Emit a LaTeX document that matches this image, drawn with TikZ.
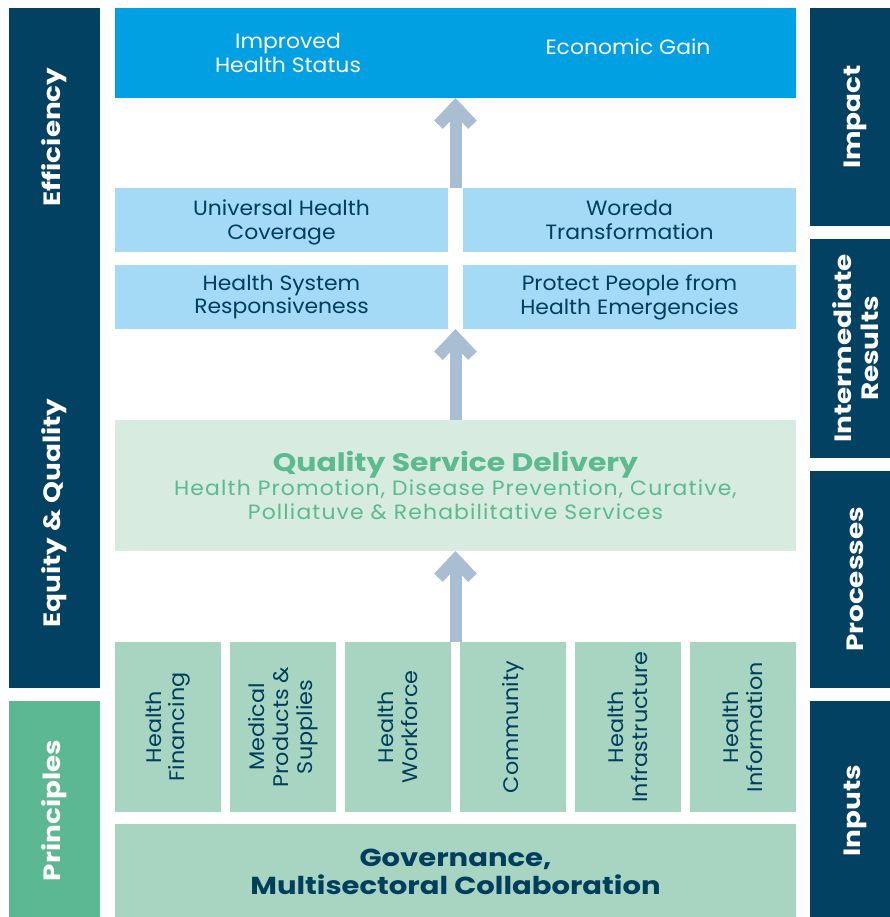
\documentclass[tikz,border=0pt]{standalone}
\usepackage{fontspec}
\setmainfont{Poppins}[FakeStretch=1.06, BoldFeatures={FakeStretch=1.18}]
\usetikzlibrary{arrows.meta}

\definecolor{navy}{RGB}{2,65,97}
\definecolor{navytext}{RGB}{0,62,94}
\definecolor{leafband}{RGB}{92,184,146}
\definecolor{skyblue}{RGB}{0,160,227}
\definecolor{paleblue}{RGB}{164,218,246}
\definecolor{mint}{RGB}{215,235,224}
\definecolor{mintdark}{RGB}{168,213,193}
\definecolor{mintText}{RGB}{91,186,143}
\definecolor{arrowgrey}{RGB}{169,189,211}

\tikzset{
  sz/.style 2 args={minimum width=#1*0.025cm, minimum height=#2*0.025cm},
  block/.style={inner sep=0, outer sep=0},
  bandlabel/.style={rotate=90, text=white, align=center, font=\bfseries\fontsize{16.8}{19}\selectfont},
  boxtext/.style={align=center, font=\fontsize{14.7}{17}\selectfont},
  inputtext/.style={rotate=90, align=center, text=navytext, font=\fontsize{15}{17}\selectfont},
  uparrow/.style={draw=arrowgrey, line width=0.3cm, -{Straight Barb[length=0.45cm, width=0.85cm]}},
}

\begin{document}
\begin{tikzpicture}[x=0.025cm, y=-0.025cm]
		%%%%% START %%%%%
		\useasboundingbox (0,0) rectangle (890,917);
		
		% left bands
		\node[block, fill=navy, sz={91}{680}] (leftband) at (54.5,348) {};
		\node[bandlabel] (eff) at (54.5,137) {Efficiency};
		\node[bandlabel] (equity) at (54.5,513) {Equity \& Quality};
		\node[block, fill=leafband, sz={219}{91}, bandlabel] (princ) at (54.5,810.5) {Principles};
		
		% right bands
		\node[block, fill=navy, sz={218}{91}, bandlabel] (impact) at (855.5,117) {Impact};
		\node[block, fill=navy, sz={219}{91}, bandlabel] (ir) at (855.5,348.5) {Intermediate\\Results};
		\node[block, fill=navy, sz={217}{91}, bandlabel] (proc) at (855.5,579.5) {Processes};
		\node[block, fill=navy, sz={219}{91}, bandlabel] (inputs) at (855.5,810.5) {Inputs};
		
		% impact
		\node[block, fill=skyblue, sz={681}{90}] (top) at (455.5,53) {};
		\node[boxtext, text=white] (health) at (288,53) {Improved\\Health Status};
		\node[boxtext, text=white] (econ) at (628,47) {Economic Gain};
		
		% intermediate results
		\node[block, fill=paleblue, sz={333}{64}, boxtext, text=navytext, text depth=0pt] (uhc) at (281.5,220) {Universal Health\\Coverage};
		\node[block, fill=paleblue, sz={333}{64}, boxtext, text=navytext, text depth=0pt] (woreda) at (629.5,220) {Woreda\\Transformation};
		\node[block, fill=paleblue, sz={333}{64}, boxtext, text=navytext] (hsr) at (281.5,297) {Health System\\Responsiveness};
		\node[block, fill=paleblue, sz={333}{64}, boxtext, text=navytext] (protect) at (629.5,297) {Protect People from\\Health Emergencies};
		
		% processes
		\node[block, fill=mint, sz={681}{131}, align=center, text=mintText,
		  font=\fontsize{14.7}{17}\addfontfeature{LetterSpace=5.5}\selectfont] (qsd) at (455.5,485.5)
		  {{\bfseries\fontsize{18}{19}\addfontfeature{LetterSpace=0}\selectfont Quality Service Delivery}\\
		   Health Promotion, Disease Prevention, Curative,\\
		   Polliatuve \& Rehabilitative Services};
		
		% inputs
		\node[block, fill=mintdark, sz={170}{106}, inputtext] (inp1) at (168,727) {Health\\Financing};
		\node[block, fill=mintdark, sz={170}{106}, inputtext] (inp2) at (283,727) {Medical\\Products \&\\Supplies};
		\node[block, fill=mintdark, sz={170}{106}, inputtext] (inp3) at (398,727) {Health\\Workforce};
		\node[block, fill=mintdark, sz={170}{106}, inputtext] (inp4) at (513,727) {Community};
		\node[block, fill=mintdark, sz={170}{106}, inputtext] (inp5) at (628,727) {Health\\Infrastructure};
		\node[block, fill=mintdark, sz={170}{106}, inputtext] (inp6) at (743,727) {Health\\Information};
		
		\node[block, fill=mintdark, sz={681}{96}, align=center, text=navytext, text depth=0pt,
		  font=\bfseries\fontsize{17.5}{20}\selectfont] (gov) at (455.5,872) {Governance,\\Multisectoral Collaboration};
		
		% arrows
		\draw[uparrow] (top.south |- uhc.north) -- (top.south);
		\draw[uparrow] (qsd.north) -- (qsd.north |- hsr.south);
		\draw[uparrow] (qsd.south |- inp1.east) -- (qsd.south);
		
		%%%%% END %%%%%
	\end{tikzpicture}
\end{document}
